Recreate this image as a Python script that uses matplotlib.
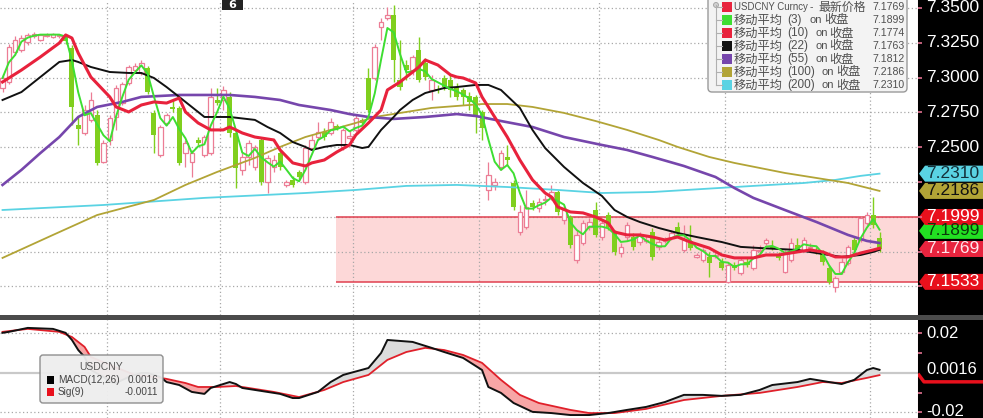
import numpy as np
import pandas as pd
import matplotlib
matplotlib.use("Agg")
import matplotlib.pyplot as plt
from matplotlib.patches import Polygon, Rectangle, FancyBboxPatch, Circle

W, H = 983, 418
CJK = ["Noto Sans CJK SC", "DejaVu Sans"]
NUM = ["Liberation Sans", "DejaVu Sans"]

# ---- USDCNY daily candles ----
opens = [7.2925, 7.2968, 7.3184, 7.3198, 7.3255, 7.3299, 7.3270, 7.3299, 7.3291, 7.3299,
         7.3299, 7.3212, 7.2660, 7.2602, 7.2696, 7.2731, 7.2394, 7.2552, 7.2717, 7.2817,
         7.2961, 7.3054, 7.3033, 7.3069, 7.2746, 7.2444, 7.2674, 7.2789, 7.2782, 7.2458,
         7.2394, 7.2552, 7.2444, 7.2458, 7.2839, 7.2839, 7.2861, 7.2602, 7.2337, 7.2430,
         7.2358, 7.2552, 7.2250, 7.2358, 7.2458, 7.2229, 7.2265, 7.2322, 7.2250, 7.2494,
         7.2573, 7.2609, 7.2602, 7.2652, 7.2502, 7.2566, 7.2624, 7.2696, 7.2997, 7.2997,
         7.3363, 7.3428, 7.3449, 7.2983, 7.3090, 7.3054, 7.3198, 7.3105, 7.2911, 7.2918,
         7.2997, 7.2983, 7.2932, 7.2911, 7.2868, 7.2861, 7.2753, 7.2193, 7.2229, 7.2358,
         7.2430, 7.2243, 7.1891, 7.1927, 7.2100, 7.2064, 7.2121, 7.2143, 7.2178, 7.1977,
         7.1999, 7.1690, 7.1812, 7.1927, 7.2049, 7.1855, 7.2013, 7.1884, 7.1740, 7.1855,
         7.1855, 7.1819, 7.1827, 7.1891, 7.1784, 7.1827, 7.1848, 7.1927, 7.1762, 7.1819,
         7.1712, 7.1690, 7.1712, 7.1719, 7.1676, 7.1532, 7.1654, 7.1597, 7.1676, 7.1633,
         7.1755, 7.1812, 7.1791, 7.1726, 7.1604, 7.1690, 7.1798, 7.1762, 7.1776, 7.1762,
         7.1748, 7.1633, 7.1496, 7.1604, 7.1669, 7.1834, 7.1834, 7.1956, 7.2013, 7.1848]
highs = [7.3026, 7.3241, 7.3299, 7.3306, 7.3320, 7.3327, 7.3313, 7.3320, 7.3320, 7.3313,
         7.3306, 7.3234, 7.2717, 7.2803, 7.2896, 7.2767, 7.2552, 7.2731, 7.2947, 7.2968,
         7.3090, 7.3105, 7.3126, 7.3083, 7.2767, 7.2660, 7.2746, 7.2839, 7.2796, 7.2552,
         7.2480, 7.2573, 7.2588, 7.2925, 7.2925, 7.2940, 7.2896, 7.2624, 7.2458, 7.2552,
         7.2516, 7.2566, 7.2444, 7.2444, 7.2480, 7.2265, 7.2294, 7.2337, 7.2516, 7.2588,
         7.2681, 7.2638, 7.2710, 7.2667, 7.2638, 7.2624, 7.2731, 7.2710, 7.3069, 7.3241,
         7.3428, 7.3507, 7.3521, 7.3270, 7.3126, 7.3162, 7.3291, 7.3141, 7.3019, 7.2947,
         7.3019, 7.3019, 7.2961, 7.2925, 7.2896, 7.2875, 7.2767, 7.2394, 7.2279, 7.2480,
         7.2516, 7.2265, 7.2085, 7.2193, 7.2121, 7.2136, 7.2157, 7.2229, 7.2193, 7.2085,
         7.2013, 7.1906, 7.1977, 7.1992, 7.2107, 7.1977, 7.2035, 7.1906, 7.1812, 7.1963,
         7.1884, 7.1891, 7.1870, 7.1920, 7.1848, 7.1855, 7.1906, 7.1963, 7.1942, 7.1942,
         7.1740, 7.1776, 7.1748, 7.1748, 7.1705, 7.1669, 7.1676, 7.1705, 7.1705, 7.1798,
         7.1798, 7.1848, 7.1834, 7.1748, 7.1762, 7.1848, 7.1848, 7.1855, 7.1812, 7.1784,
         7.1762, 7.1654, 7.1575, 7.1705, 7.1798, 7.1855, 7.2006, 7.2035, 7.2143, 7.1891]
lows = [7.2896, 7.2954, 7.3162, 7.3184, 7.3234, 7.3284, 7.3263, 7.3291, 7.3284, 7.3284,
        7.3241, 7.2660, 7.2516, 7.2588, 7.2681, 7.2372, 7.2387, 7.2516, 7.2624, 7.2803,
        7.2947, 7.3040, 7.3019, 7.2882, 7.2458, 7.2430, 7.2660, 7.2753, 7.2372, 7.2358,
        7.2286, 7.2516, 7.2430, 7.2444, 7.2803, 7.2767, 7.2573, 7.2207, 7.2301, 7.2372,
        7.2337, 7.2229, 7.2171, 7.2322, 7.2337, 7.2214, 7.2214, 7.2265, 7.2236, 7.2480,
        7.2552, 7.2552, 7.2588, 7.2624, 7.2480, 7.2552, 7.2609, 7.2660, 7.2753, 7.2983,
        7.3270, 7.3413, 7.2968, 7.2911, 7.2983, 7.3019, 7.2968, 7.2983, 7.2839, 7.2889,
        7.2911, 7.2861, 7.2839, 7.2803, 7.2767, 7.2602, 7.2552, 7.2121, 7.2193, 7.2337,
        7.2372, 7.2049, 7.1870, 7.1913, 7.2049, 7.2035, 7.2085, 7.2121, 7.2013, 7.1949,
        7.1776, 7.1669, 7.1798, 7.1906, 7.1855, 7.1834, 7.1906, 7.1726, 7.1712, 7.1834,
        7.1762, 7.1798, 7.1812, 7.1690, 7.1762, 7.1812, 7.1834, 7.1870, 7.1748, 7.1762,
        7.1705, 7.1676, 7.1568, 7.1705, 7.1618, 7.1525, 7.1618, 7.1583, 7.1640, 7.1618,
        7.1740, 7.1798, 7.1762, 7.1690, 7.1597, 7.1676, 7.1748, 7.1748, 7.1762, 7.1733,
        7.1654, 7.1518, 7.1460, 7.1590, 7.1654, 7.1748, 7.1819, 7.1942, 7.1920, 7.1748]
closes = [7.2997, 7.3220, 7.3270, 7.3284, 7.3306, 7.3313, 7.3306, 7.3306, 7.3313, 7.3306,
          7.3263, 7.2789, 7.2631, 7.2767, 7.2839, 7.2387, 7.2530, 7.2710, 7.2925, 7.2954,
          7.3076, 7.3083, 7.3105, 7.2896, 7.2588, 7.2645, 7.2731, 7.2774, 7.2387, 7.2530,
          7.2458, 7.2530, 7.2573, 7.2861, 7.2817, 7.2911, 7.2602, 7.2351, 7.2430, 7.2530,
          7.2502, 7.2250, 7.2423, 7.2408, 7.2358, 7.2250, 7.2229, 7.2286, 7.2494, 7.2552,
          7.2609, 7.2573, 7.2681, 7.2638, 7.2624, 7.2580, 7.2710, 7.2674, 7.2767, 7.3220,
          7.3399, 7.3449, 7.3126, 7.2932, 7.3054, 7.3148, 7.2983, 7.3004, 7.2983, 7.2911,
          7.2932, 7.2911, 7.2861, 7.2861, 7.2825, 7.2731, 7.2638, 7.2301, 7.2250, 7.2458,
          7.2408, 7.2071, 7.2035, 7.2071, 7.2071, 7.2107, 7.2128, 7.2178, 7.2035, 7.2049,
          7.1798, 7.1870, 7.1956, 7.1963, 7.1870, 7.1956, 7.1927, 7.1748, 7.1784, 7.1942,
          7.1784, 7.1870, 7.1834, 7.1712, 7.1819, 7.1834, 7.1884, 7.1884, 7.1834, 7.1776,
          7.1726, 7.1762, 7.1669, 7.1726, 7.1633, 7.1654, 7.1633, 7.1690, 7.1654, 7.1762,
          7.1762, 7.1834, 7.1776, 7.1705, 7.1740, 7.1812, 7.1762, 7.1834, 7.1784, 7.1748,
          7.1676, 7.1532, 7.1561, 7.1676, 7.1784, 7.1762, 7.1992, 7.2013, 7.1942, 7.1769]

# first trading day of each month (candle index)
month_start = [17, 35, 56, 76, 95, 115, 138]

# moving averages sampled along the candle index
ma10_idx = [0, 3, 6, 9, 10, 11, 12, 14, 17, 18, 20, 22, 24, 26, 28, 29, 31, 33, 35, 36,
            37, 38, 40, 43, 44, 46, 48, 49, 51, 53, 55, 56, 58, 60, 61, 63, 64, 66, 67, 69,
            71, 72, 73, 75, 76, 78, 80, 82, 84, 86, 87, 88, 90, 92, 94, 96, 97, 99, 101, 103,
            105, 107, 109, 112, 114, 116, 119, 121, 123, 126, 128, 130, 132, 134, 136, 138, 139]
ma10 = [7.2968, 7.3054, 7.3148, 7.3248, 7.3306, 7.3284, 7.3176, 7.3004, 7.2861, 7.2789,
        7.2753, 7.2803, 7.2825, 7.2817, 7.2853, 7.2753, 7.2674, 7.2624, 7.2624, 7.2645,
        7.2624, 7.2602, 7.2573, 7.2552, 7.2480, 7.2387, 7.2365, 7.2387, 7.2408, 7.2466,
        7.2516, 7.2588, 7.2674, 7.2767, 7.2911, 7.2968, 7.3004, 7.3076, 7.3126, 7.3090,
        7.3019, 7.3004, 7.2997, 7.2961, 7.2861, 7.2717, 7.2573, 7.2408, 7.2265, 7.2171,
        7.2143, 7.2071, 7.2035, 7.2028, 7.1999, 7.1956, 7.1891, 7.1870, 7.1870, 7.1855,
        7.1834, 7.1855, 7.1819, 7.1776, 7.1726, 7.1705, 7.1705, 7.1726, 7.1726, 7.1748,
        7.1762, 7.1748, 7.1712, 7.1712, 7.1740, 7.1762, 7.1774]
ma22_idx = [0, 3, 6, 9, 11, 12, 14, 17, 20, 22, 24, 26, 28, 30, 32, 34, 36, 40, 42, 44,
            46, 48, 49, 51, 53, 55, 57, 58, 60, 62, 63, 65, 67, 70, 72, 75, 77, 79, 82, 84,
            86, 89, 92, 95, 97, 99, 101, 104, 107, 110, 114, 117, 120, 123, 126, 129, 132, 133,
            136, 138, 139]
ma22 = [7.2839, 7.2896, 7.3004, 7.3112, 7.3126, 7.3112, 7.3076, 7.3040, 7.3033, 7.3033,
        7.2997, 7.2932, 7.2861, 7.2789, 7.2717, 7.2717, 7.2717, 7.2696, 7.2645, 7.2602,
        7.2537, 7.2502, 7.2480, 7.2502, 7.2516, 7.2516, 7.2494, 7.2502, 7.2624, 7.2717,
        7.2767, 7.2839, 7.2889, 7.2925, 7.2932, 7.2947, 7.2947, 7.2911, 7.2782, 7.2624,
        7.2494, 7.2358, 7.2243, 7.2150, 7.2049, 7.1999, 7.1963, 7.1920, 7.1884, 7.1855,
        7.1819, 7.1784, 7.1776, 7.1769, 7.1762, 7.1740, 7.1719, 7.1712, 7.1726, 7.1748,
        7.1763]
ma55_idx = [0, 3, 6, 9, 12, 15, 19, 22, 25, 28, 33, 36, 40, 44, 47, 52, 55, 58, 62, 67,
            72, 75, 79, 84, 89, 95, 99, 103, 108, 113, 116, 119, 124, 129, 134, 136, 137, 139]
ma55 = [7.2229, 7.2337, 7.2458, 7.2573, 7.2717, 7.2789, 7.2825, 7.2861, 7.2868, 7.2875,
        7.2875, 7.2875, 7.2861, 7.2839, 7.2803, 7.2767, 7.2738, 7.2717, 7.2703, 7.2717,
        7.2738, 7.2724, 7.2688, 7.2645, 7.2573, 7.2516, 7.2480, 7.2430, 7.2365, 7.2286,
        7.2207, 7.2136, 7.2049, 7.1963, 7.1870, 7.1841, 7.1827, 7.1812]
ma100_idx = [0, 8, 15, 24, 29, 34, 40, 44, 48, 52, 56, 59, 64, 68, 72, 76, 80, 84, 89, 94,
             99, 104, 107, 112, 116, 124, 129, 134, 139]
ma100 = [7.1705, 7.1870, 7.2013, 7.2121, 7.2229, 7.2322, 7.2423, 7.2502, 7.2573, 7.2624,
         7.2674, 7.2717, 7.2753, 7.2782, 7.2796, 7.2810, 7.2810, 7.2789, 7.2746, 7.2688,
         7.2624, 7.2552, 7.2502, 7.2430, 7.2387, 7.2315, 7.2279, 7.2243, 7.2186]
ma200_idx = [0, 16, 32, 48, 56, 64, 72, 80, 88, 95, 103, 111, 119, 127, 132, 136, 139]
ma200 = [7.2049, 7.2085, 7.2136, 7.2171, 7.2193, 7.2222, 7.2229, 7.2214, 7.2193, 7.2171,
         7.2178, 7.2200, 7.2222, 7.2243, 7.2265, 7.2294, 7.2310]

# MACD(12,26) and signal(9)
macd_idx = [0, 1, 4, 8, 10, 11, 12, 13, 14, 16, 17, 18, 20, 22, 23, 25, 26, 28, 30, 32,
            33, 36, 37, 38, 40, 42, 44, 46, 47, 50, 52, 54, 58, 60, 61, 63, 65, 68, 70, 73,
            76, 77, 79, 81, 84, 87, 90, 93, 96, 99, 102, 105, 108, 111, 114, 117, 120, 122,
            126, 128, 131, 133, 135, 137, 138, 139]
macd = [0.0203, 0.0208, 0.0228, 0.0223, 0.0203, 0.0167, 0.0116, 0.0081, 0.0015, -0.0020,
        -0.0046, -0.0051, -0.0020, 0.0000, 0.0000, -0.0020, -0.0046, -0.0061, -0.0096, -0.0106,
        -0.0076, -0.0046, -0.0056, -0.0076, -0.0086, -0.0096, -0.0106, -0.0127, -0.0127, -0.0096,
        -0.0046, -0.0010, 0.0025, 0.0101, 0.0167, 0.0162, 0.0157, 0.0127, 0.0106, 0.0076,
        0.0015, -0.0071, -0.0101, -0.0152, -0.0197, -0.0203, -0.0213, -0.0213, -0.0203, -0.0187,
        -0.0172, -0.0147, -0.0111, -0.0111, -0.0116, -0.0111, -0.0086, -0.0061, -0.0046, -0.0030,
        -0.0046, -0.0056, -0.0035, 0.0015, 0.0025, 0.0016]
sig_idx = [0, 4, 9, 11, 13, 14, 17, 19, 21, 24, 26, 29, 31, 34, 37, 40, 43, 47, 51, 54,
           58, 61, 64, 67, 70, 73, 76, 79, 82, 85, 90, 93, 97, 102, 108, 114, 120, 126, 130, 133,
           137, 139]
sig = [0.0208, 0.0223, 0.0208, 0.0182, 0.0132, 0.0081, 0.0041, 0.0015, -0.0010, -0.0020,
       -0.0030, -0.0051, -0.0071, -0.0071, -0.0066, -0.0081, -0.0096, -0.0122, -0.0086, -0.0046,
       -0.0010, 0.0066, 0.0106, 0.0127, 0.0116, 0.0091, 0.0051, -0.0035, -0.0111, -0.0152,
       -0.0187, -0.0203, -0.0203, -0.0182, -0.0137, -0.0116, -0.0101, -0.0071, -0.0046, -0.0051,
       -0.0025, -0.0011]

band_start = 53
band_lo, band_hi = 7.1533, 7.1999

ma_periods = ["3", "10", "22", "55", "100", "200"]
legend_vals = [7.1769, 7.1899, 7.1774, 7.1763, 7.1812, 7.2186, 7.2310]
macd_last, sig_last = 0.0016, -0.0011

C_LAST, C_MA3, C_MA10, C_MA22 = "#e8243e", "#3ede32", "#e8223c", "#111111"
C_MA55, C_MA100, C_MA200 = "#7646ac", "#b2a436", "#5ad3e3"
PINK, GREEN = "#ec7d95", "#80cf1e"

x = np.arange(len(closes))
o, hi, lo, c = (np.array(a) for a in (opens, highs, lows, closes))
up = c >= o
ma3 = pd.Series(closes).rolling(3, min_periods=1).mean()

XL = (-0.4, 145.1)
YL = (7.1295, 7.3557)
ML = (-0.0228, 0.0268)

fig = plt.figure(figsize=(W / 100, H / 100), dpi=100)
ax = fig.add_axes([0, 103 / H, 918 / W, 315 / H])
ax2 = fig.add_axes([0, 0, 918 / W, 98 / H])
rax = fig.add_axes([918 / W, 103 / H, 65 / W, 315 / H])
rax2 = fig.add_axes([918 / W, 0, 65 / W, 98 / H])

for a in (ax, ax2):
    a.set_xlim(XL)
    a.set_xticks([]); a.set_yticks([])
    for s in ("left", "top", "bottom"):
        a.spines[s].set_visible(False)
    a.spines["right"].set_color("#e07090")
ax.set_ylim(YL); ax2.set_ylim(ML)

dot = dict(colors="#a8a8a8", linestyles=(0, (1, 2)), linewidths=0.9, zorder=1)
ax.hlines(np.arange(7.15, 7.351, 0.025), *XL, **dot)
ax.vlines(np.array(month_start) - 0.5, *YL, **dot)

# pink range band
ax.fill_between([band_start - 0.2, XL[1]], band_lo, band_hi, color="#fdd8d8", lw=0, zorder=0.5)
ax.hlines([band_lo, band_hi], band_start - 0.2, XL[1], colors="#e0404f", lw=1.1, zorder=1.5)

# candles
body_lo = np.minimum(o, c)
body_h = np.maximum(np.abs(c - o), 0.0003)
ax.vlines(x[up], lo[up], hi[up], color=PINK, lw=0.9, zorder=2)
ax.vlines(x[~up], lo[~up], hi[~up], color=GREEN, lw=1.0, zorder=2)
ax.bar(x[up], body_h[up], bottom=body_lo[up], width=0.72, facecolor="white",
       edgecolor=PINK, linewidth=0.9, zorder=3)
ax.bar(x[~up], body_h[~up], bottom=body_lo[~up], width=0.8, color=GREEN,
       linewidth=0, zorder=3)

ax.plot(ma200_idx, ma200, color=C_MA200, lw=1.3, zorder=4)
ax.plot(ma100_idx, ma100, color=C_MA100, lw=1.3, zorder=4)
ax.plot(ma55_idx, ma55, color=C_MA55, lw=1.9, zorder=4)
ax.plot(ma22_idx, ma22, color=C_MA22, lw=1.4, zorder=5)
ax.plot(x, ma3, color=C_MA3, lw=1.4, zorder=5)
ax.plot(ma10_idx, ma10, color=C_MA10, lw=2.2, zorder=6)

# MACD panel
ax2.hlines([-0.02, 0.02], *XL, **dot)
ax2.axhline(0, color="#c9c9c9", lw=1.6, zorder=1)
ax2.vlines(np.array(month_start) - 0.5, *ML, **dot)
g = np.arange(0, x[-1] + 0.001, 0.25)
mg = np.interp(g, macd_idx, macd)
sg = np.interp(g, sig_idx, sig)
ax2.fill_between(g, mg, sg, where=mg >= sg, interpolate=True, color="#dcdcdc", lw=0, zorder=2)
ax2.fill_between(g, mg, sg, where=mg < sg, interpolate=True, color="#f7a6a6", lw=0, zorder=2)
ax2.plot(sig_idx, sig, color="#e0202a", lw=1.3, zorder=3)
ax2.plot(macd_idx, macd, color="#111111", lw=1.4, zorder=4)

# right-hand price strips
for r, yl in ((rax, YL), (rax2, ML)):
    r.set_facecolor("black")
    r.set_xlim(0, 65); r.set_ylim(yl)
    r.set_xticks([]); r.set_yticks([])
    for s in r.spines.values():
        s.set_visible(False)

major = [7.35, 7.325, 7.30, 7.275, 7.25]
rax.hlines(np.arange(7.15, 7.351, 0.025), 0, 4, colors="#e07090", lw=1.2)
for v in major:
    rax.text(8, v, f"{v:.4f}", color="white", fontsize=12.5, family=NUM, va="center")

hh = 8 * (YL[1] - YL[0]) / 315
tags = [(legend_vals[6], C_MA200, "#14303a"), (legend_vals[5], C_MA100, "#111111"),
        (legend_vals[1], "#22e022", "#0a3a0a"), (band_hi, "#e8101c", "white"),
        (legend_vals[0], C_LAST, "#ffe6ec"), (band_lo, "#e8101c", "white")]
for v, fc, tc in tags:
    rax.add_patch(Polygon([(1, v), (7, v + hh), (65, v + hh), (65, v - hh), (7, v - hh)],
                          closed=True, fc=fc, ec="none"))
    rax.text(8, v, f"{v:.4f}", color=tc, fontsize=12.5, family=NUM, va="center")

rax2.hlines([0.02, -0.02, 0.01, -0.01], 0, 4, colors="#e07090", lw=1.2)
rax2.plot([1, 6, 65], [sig_last, sig_last - 0.0034, sig_last - 0.0034], color="#e8101c", lw=2.5)
for v, lab in ((0.02, "0.02"), (macd_last, f"{macd_last:.4f}"), (-0.0197, "-0.02")):
    rax2.text(8, v, lab, color="white", fontsize=12, family=NUM, va="center")

# dark separator between panels
fig.add_artist(Rectangle((0, 98 / H), 1, 5 / H, transform=fig.transFigure,
                         fc="#4b4b4b", ec="none"))

# overlay in pixel coordinates for legends
ov = fig.add_axes([0, 0, 1, 1], zorder=10)
ov.set_xlim(0, W); ov.set_ylim(H, 0); ov.axis("off")

TXT = "#505050"
ov.add_patch(FancyBboxPatch((708, -6), 199, 98, boxstyle="round,pad=0,rounding_size=4",
                            fc="#f3f3f3", ec="#9a9a9a", lw=1))
rows_y = [7, 20, 33, 46, 59, 72, 85]
cols = [C_LAST, C_MA3, C_MA10, C_MA22, C_MA55, C_MA100, C_MA200]
ov.plot([716, 716], [5, 85], color="#b0b0b0", lw=0.8)
ov.add_patch(Circle((716, 5), 2.5, fc="#d0d0d0", ec="#a0a0a0", lw=0.6))
for yy, col, val in zip(rows_y, cols, legend_vals):
    ov.plot([716, 722], [yy, yy], color="#b0b0b0", lw=0.8)
    ov.add_patch(Rectangle((722, yy - 5), 10, 10, fc=col, ec="none"))
    ov.text(872, yy, f"{val:.4f}", fontsize=7.6, family=NUM, color=TXT, va="center")

ov.text(734, rows_y[0], "USDCNY Curncy", fontsize=6.9, family=NUM, color=TXT, va="center")
ov.text(810, rows_y[0], "-", fontsize=7.5, family=NUM, color=TXT, va="center")
ov.text(818, rows_y[0], "最新价格", fontsize=8.6, family=CJK, color=TXT, va="center")
on_x = {1: 810, 2: 815, 3: 822}
for yy, p in zip(rows_y[1:], ma_periods):
    ov.text(734, yy, "移动平均", fontsize=8.8, family=CJK, color=TXT, va="center")
    ov.text(787, yy, f"({p})", fontsize=8.5, family=NUM, color=TXT, va="center")
    ov.text(on_x[len(p)], yy, "on", fontsize=8, family=NUM, color=TXT, va="center")
    ov.text(on_x[len(p)] + 14, yy, "收盘", fontsize=8.8, family=CJK, color=TXT, va="center")

# MACD legend
ov.add_patch(FancyBboxPatch((40, 355), 123, 48, boxstyle="round,pad=0,rounding_size=3",
                            fc="#eeeeee", ec="#8a8a8a", lw=1, alpha=0.95))
ov.text(101, 367, "USDCNY", fontsize=7.5, family=NUM, color="#555555", ha="center", va="center")
for yy, col, name, val in ((380, "black", "MACD(12,26)", macd_last),
                           (392, "#e8101c", "Sig(9)", sig_last)):
    ov.add_patch(Rectangle((47, yy - 4), 7, 8, fc=col, ec="none"))
    ov.text(58, yy, name, fontsize=7.2, family=NUM, color="#444444", va="center")
    ov.text(158, yy, f"{val:.4f}", fontsize=7.2, family=NUM, color="#444444",
            va="center", ha="right")

# event marker at the top
ov.add_patch(Rectangle((222, -2), 21, 12, fc="#222222", ec="none"))
ov.text(232.5, 5, "6", fontsize=8, color="white", weight="bold", ha="center", va="center")

fig.savefig("out.png", dpi=100)
